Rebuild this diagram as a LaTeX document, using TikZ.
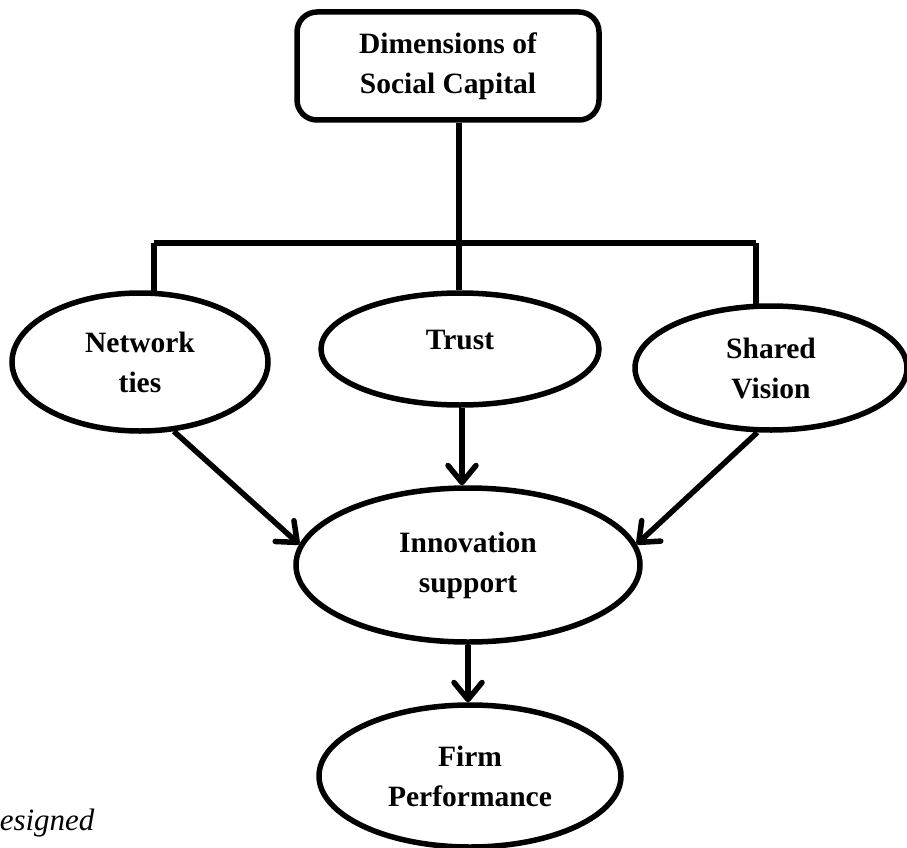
\documentclass[tikz,border=0pt]{standalone}
\usepackage{fontspec}
\setmainfont{Liberation Serif}
\usetikzlibrary{shapes.geometric,arrows.meta}
\begin{document}
\begin{tikzpicture}[x=1pt,y=-1pt,
  every node/.style={font=\fontsize{29.5}{40}\selectfont\bfseries, align=center, line width=5.5pt, inner sep=0pt},
  ell/.style={draw, ellipse},
  link/.style={line width=5.5pt},
  arr/.style={line width=5.5pt, -{Straight Barb[length=17pt,width=28pt,round]}}
]
\useasboundingbox (0,0) rectangle (907,848);
\node[draw, rounded corners=20pt, minimum width=302pt, minimum height=108pt] (top) at (448,66) {Dimensions of\\Social Capital};
\node[ell, minimum width=256pt, minimum height=138pt] (net) at (140,362) {Network\\ties};
\node[ell, minimum width=278pt, minimum height=112pt] (trust) at (460,349) {Trust\\[-22pt]};
\node[ell, minimum width=272pt, minimum height=124pt] (sv) at (771,368) {Shared\\Vision};
\node[ell, minimum width=344pt, minimum height=154pt] (inno) at (468,565) {Innovation\\support};
\node[ell, minimum width=302pt, minimum height=142pt] (firm) at (470,776) {Firm\\Performance};
\node[anchor=base west, font=\fontsize{31}{36}\selectfont\itshape] (note) at (-3,830) {esigned};
\coordinate (barM) at (459,243);
\draw[link] (net.79 |- barM) -- (sv.103 |- barM);
\draw[link] (net.79 |- barM) -- (net.79);
\draw[link] (sv.103 |- barM) -- (sv.103);
\draw[link] (top.south -| barM) -- (trust.north -| barM);
\draw[arr] (net.-64) -- (inno.173);
\draw[arr] (trust.south -| 462,0) -- (inno.north -| 462,0);
\draw[arr] (sv.-102) -- (inno.7);
\draw[arr] (inno.south) -- (firm.north -| inno.south);
\end{tikzpicture}
\end{document}
